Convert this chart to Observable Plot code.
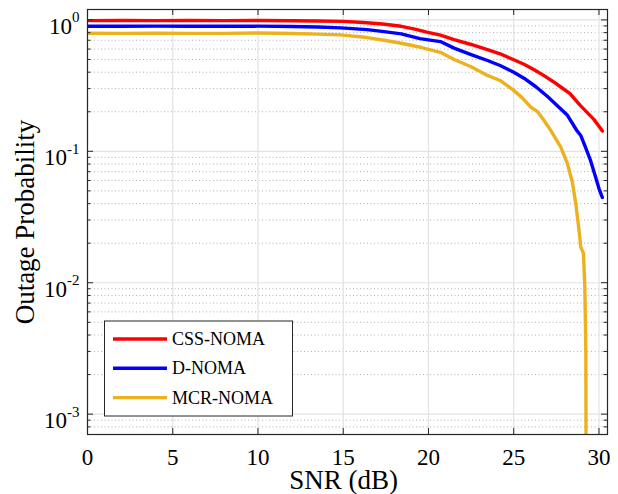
<!DOCTYPE html>
<html><head><meta charset="utf-8">
<script src="https://cdn.jsdelivr.net/npm/d3@7"></script>
<script src="https://cdn.jsdelivr.net/npm/@observablehq/plot@0.6"></script>
<style>
html,body{margin:0;padding:0;background:#fff;}
#chart{position:relative;width:618px;height:494px;}
</style></head><body><div id="chart"></div>
<script>
// ---- data ----
const seriesNames = ["CSS-NOMA", "D-NOMA", "MCR-NOMA"];
const seriesColors = ["#FF0000", "#0000FF", "#EDB120"];

const cssX = [0, 2, 4, 6, 8, 10, 12, 13.5, 15, 16.2, 17.3, 18.4, 19.2, 19.9, 20.7, 21.5, 22.5, 23.5, 24.2, 25.0, 25.6, 26.2, 26.8, 27.3, 27.8, 28.3, 28.9, 29.3, 29.7, 30.0, 30.2];
const cssY = [0.988, 0.99, 0.988, 0.99, 0.988, 0.99, 0.986, 0.982, 0.975, 0.955, 0.93, 0.894, 0.85, 0.808, 0.767, 0.708, 0.65, 0.592, 0.552, 0.497, 0.46, 0.417, 0.375, 0.34, 0.306, 0.275, 0.2235, 0.198, 0.175, 0.155, 0.1426];

const dX = [0, 2, 4, 6, 8, 10, 12, 13.5, 14.85, 16.4, 17.4, 18.4, 19.5, 20.7, 21.5, 22.5, 23.46, 24.2, 25.0, 25.6, 26.3, 27.0, 27.76, 28.15, 28.7, 28.93, 29.2, 29.5, 29.8, 30.0, 30.2];
const dY = [0.894, 0.894, 0.896, 0.894, 0.894, 0.896, 0.89, 0.883, 0.87, 0.843, 0.815, 0.783, 0.72, 0.684, 0.61, 0.545, 0.491, 0.45, 0.40, 0.36, 0.31, 0.26, 0.21, 0.188, 0.144, 0.132, 0.108, 0.0855, 0.0638, 0.0521, 0.0445];

const mcrX = [0, 2, 4, 6, 8, 10, 12, 13.5, 14.85, 16.4, 17.4, 18.4, 19.54, 20.7, 21.5, 22.5, 23.46, 24.2, 25.0, 25.5, 26.0, 26.4, 26.8, 27.17, 27.46, 27.76, 28.15, 28.44, 28.64, 28.83, 28.93, 29.09, 29.17, 29.23, 29.27];
const mcrY = [0.791, 0.79, 0.792, 0.79, 0.79, 0.795, 0.788, 0.78, 0.769, 0.734, 0.70, 0.664, 0.619, 0.567, 0.50, 0.44, 0.378, 0.346, 0.291, 0.255, 0.217, 0.2, 0.17, 0.1444, 0.1249, 0.1078, 0.0806, 0.0581, 0.0401, 0.0251, 0.01877, 0.0167, 0.00933, 0.00292, 0.00001];

const xTicks = [0, 5, 10, 15, 20, 25, 30];
const xTickLabels = ["0", "5", "10", "15", "20", "25", "30"];
const yMajor = [1, 0.1, 0.01, 0.001];
const yMajorExp = ["0", "-1", "-2", "-3"];
const xDomain = [0, 30.5];
const yDomain = [7e-4, 1.2];
const xLabel = "SNR (dB)";
const yLabel = "Outage Probability";

// ---- build ----
const yMinor = [];
for (let e = -4; e <= 0; e++) for (let m = 2; m <= 9; m++) {
  const v = m * Math.pow(10, e);
  if (v > yDomain[0] * 1.0001 && v < yDomain[1]) yMinor.push(v);
}
const rows = [];
[[cssX, cssY], [dX, dY], [mcrX, mcrY]].forEach(([xs, ys], i) => {
  xs.forEach((x, j) => rows.push({series: seriesNames[i], x, y: ys[j]}));
});

const W = 618, H = 494, mL = 87, mR = 11, mT = 9, mB = 60;
const pw = W - mL - mR, ph = H - mT - mB;
const font = "'Liberation Serif', 'Times New Roman', serif";
const axisColor = "#262626";

const chart = Plot.plot({
  width: W, height: H,
  marginLeft: mL, marginRight: mR, marginTop: mT, marginBottom: mB,
  style: {fontFamily: font, background: "#fff", overflow: "visible"},
  x: {domain: xDomain, axis: null},
  y: {type: "log", domain: yDomain, axis: null},
  color: {domain: seriesNames, range: seriesColors},
  marks: [
    Plot.ruleY(yMinor, {stroke: "#b0b0b0", strokeWidth: 1, strokeDasharray: "1,2.5"}),
    Plot.ruleY(yMajor, {stroke: "#e2e2e2", strokeWidth: 1.2}),
    Plot.ruleX(xTicks, {stroke: "#e2e2e2", strokeWidth: 1.2}),
    Plot.line(rows, {x: "x", y: "y", z: "series", stroke: "series", strokeWidth: 3.4, clip: true, strokeLinejoin: "round"}),
    // inward ticks
    Plot.ruleX(xTicks, {stroke: axisColor, insetTop: ph - 6}),
    Plot.ruleX(xTicks, {stroke: axisColor, insetBottom: ph - 6}),
    Plot.ruleY(yMajor, {stroke: axisColor, insetRight: pw - 6}),
    Plot.ruleY(yMajor, {stroke: axisColor, insetLeft: pw - 6}),
    Plot.ruleY(yMinor, {stroke: axisColor, insetRight: pw - 3.5}),
    Plot.ruleY(yMinor, {stroke: axisColor, insetLeft: pw - 3.5}),
    Plot.frame({stroke: axisColor, strokeWidth: 1.2}),
    // tick labels
    Plot.text(xTicks, {x: d => d, text: (d, i) => xTickLabels[i], frameAnchor: "bottom", lineAnchor: "middle", textAnchor: "middle", dy: 23.5, fontSize: 23, fill: "#000"}),
    Plot.text(yMajor, {y: d => d, text: (d, i) => "10^" + yMajorExp[i], frameAnchor: "left", lineAnchor: "middle", textAnchor: "end", dx: -8, dy: 6.6, fontSize: 23, fill: "#000"}),
    // axis labels
    Plot.text([xLabel], {frameAnchor: "bottom", lineAnchor: "middle", textAnchor: "middle", dx: -4, dy: 46, fontSize: 27, fill: "#000"}),
    Plot.text([yLabel], {frameAnchor: "left", lineAnchor: "middle", textAnchor: "middle", dx: -62, rotate: -90, fontSize: 27, fill: "#000"})
  ]
});

// superscript exponents
d3.select(chart).selectAll("text").each(function () {
  if (this.querySelector("tspan")) return;
  const s = this.textContent;
  if (s.indexOf("^") < 0) return;
  const t = s.split("^");
  const sel = d3.select(this);
  sel.text(t[0]);
  sel.append("tspan").attr("dy", -11.6).attr("font-size", 15).text(t[1]);
});

// legend
const svg = d3.select(chart);
const lg = svg.append("g").attr("font-family", font).attr("font-size", 18).attr("text-anchor", "start");
lg.append("rect").attr("x", 104.5).attr("y", 321).attr("width", 188).attr("height", 95)
  .attr("fill", "#fff").attr("stroke", axisColor).attr("stroke-width", 1);
seriesNames.forEach((name, i) => {
  const cy = 339 + i * 29.3;
  lg.append("line").attr("x1", 113).attr("x2", 167).attr("y1", cy).attr("y2", cy)
    .attr("stroke", seriesColors[i]).attr("stroke-width", 3.4);
  lg.append("text").attr("x", 172).attr("y", cy).attr("dy", "0.34em").attr("fill", "#000")
    .attr("text-anchor", "start").text(name);
});

document.getElementById("chart").appendChild(chart);
</script>
</body></html>
